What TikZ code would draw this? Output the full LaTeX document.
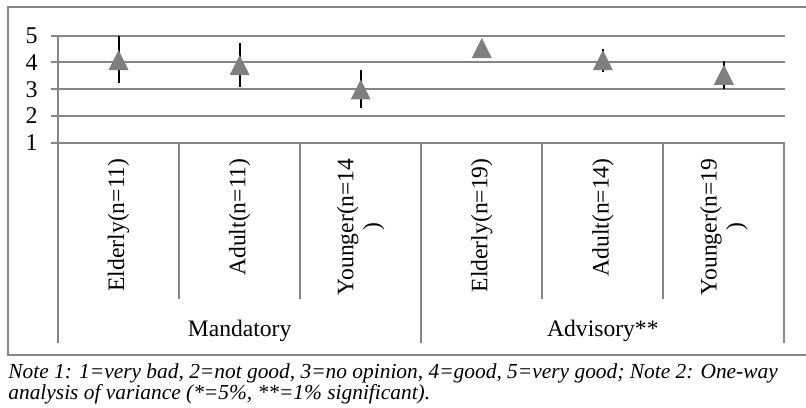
\documentclass[tikz,border=0pt]{standalone}
\usepackage{fontspec}
\setmainfont{Liberation Serif}
\usetikzlibrary{calc}
\definecolor{gridgray}{HTML}{868686}
\definecolor{markgray}{HTML}{7F7F7F}

\begin{document}
\begin{tikzpicture}[x=0.5pt, y=-0.5pt,
    gridline/.style={gridgray, line width=1pt},
    errbar/.style={black, line width=1pt},
    marker/.style={fill=markgray},
    ticklabel/.style={inner sep=0pt, font=\fontsize{12}{13}\selectfont},
    catlabel/.style={inner sep=0pt, rotate=90, align=center, font=\fontsize{11.8}{13}\selectfont},
    grouplabel/.style={inner sep=0pt, font=\fontsize{11.8}{13}\selectfont},
    note/.style={inner sep=0pt, font=\fontsize{10.7}{12}\selectfont\itshape}]

    % ==========================================
    % DEFINE PARAMETERS & COORDINATES
    % ==========================================

    % one unit = one pixel of the original chart, y runs downwards
    \def\plotL{58}      % value axis
    \def\plotR{784.5}   % right end of the plot area
    \def\catW{121.08}   % width of one category
    \def\yOne{142.7}    % y of rating 1
    \def\yUnit{26.75}   % height of one rating step
    \def\tri{10}        % half size of the triangle marker

    \useasboundingbox (0,0) rectangle (806,407);

    % Corners of the outer frame (right side runs off the page)
    \coordinate (frame_TR) at (806,7);
    \coordinate (frame_BL) at (8,355);
    \coordinate (frame_BR) at (806,355);

    % ==========================================
    % DRAW FRAME, GRID & VALUE AXIS
    % ==========================================

    \draw[gridline] (frame_TR) -| (frame_BL) -- (frame_BR);

    \foreach \v in {1,...,5} {
        \draw[gridline] (51, {\yOne-(\v-1)*\yUnit}) -- (\plotR, {\yOne-(\v-1)*\yUnit});
        \node[ticklabel, anchor=east] (tick\v) at (38, {\yOne-(\v-1)*\yUnit}) {\v};
    }

    % value axis, carried down as the left edge of the category table
    \draw[gridline] (\plotL, {\yOne-4*\yUnit}) -- (\plotL, 343);

    % ==========================================
    % CATEGORY TABLE
    % ==========================================

    % separators between the groups inside a block
    \foreach \i in {1,2,4,5}
        \draw[gridline] ({\plotL+\i*\catW}, \yOne) -- ({\plotL+\i*\catW}, 299);

    % separators between Mandatory and Advisory, and right edge
    \foreach \i in {3,6}
        \draw[gridline] ({\plotL+\i*\catW}, \yOne) -- ({\plotL+\i*\catW}, 343);

    \foreach \i/\lab in {1/{Elderly(n=11)}, 2/{Adult(n=11)}, 3/{Younger(n=14\\)},
                         4/{Elderly(n=19)}, 5/{Adult(n=14)}, 6/{Younger(n=19\\)}}
        \node[catlabel, anchor=east] (cat\i) at ({\plotL+(\i-0.5)*\catW}, 158) {\lab};

    \node[grouplabel, anchor=base] (mandatory) at ({\plotL+1.5*\catW}, 336.5) {Mandatory};
    \node[grouplabel, anchor=base] (advisory) at ({\plotL+4.5*\catW}, 336.5) {Advisory**};

    % ==========================================
    % MEANS & ERROR BARS
    % ==========================================

    \foreach \i/\m/\lo/\hi in {1/4.09/3.23/4.99, 2/3.90/3.09/4.72, 3/2.99/2.30/3.72,
                               4/4.54/4.50/4.58, 5/4.09/3.65/4.49, 6/3.54/3.02/4.05} {
        \coordinate (mean\i) at ({\plotL+(\i-0.5)*\catW}, {\yOne-(\m-1)*\yUnit});
        \draw[errbar] ({\plotL+(\i-0.5)*\catW}, {\yOne-(\lo-1)*\yUnit})
            -- ({\plotL+(\i-0.5)*\catW}, {\yOne-(\hi-1)*\yUnit});
        \fill[marker] ($(mean\i)+(0,-\tri)$) -- ($(mean\i)+(-\tri,\tri)$)
            -- ($(mean\i)+(\tri,\tri)$) -- cycle;
    }

    % ==========================================
    % NOTE BELOW THE CHART
    % ==========================================

    \node[note, anchor=base west] (note1) at (8,378)
        {Note 1: 1=very bad, 2=not good, 3=no opinion, 4=good, 5=very good; Note 2: One-way};
    \node[note, anchor=base west] (note2) at (8,399)
        {analysis of variance (*=5\%, **=1\% significant).};

\end{tikzpicture}
\end{document}
